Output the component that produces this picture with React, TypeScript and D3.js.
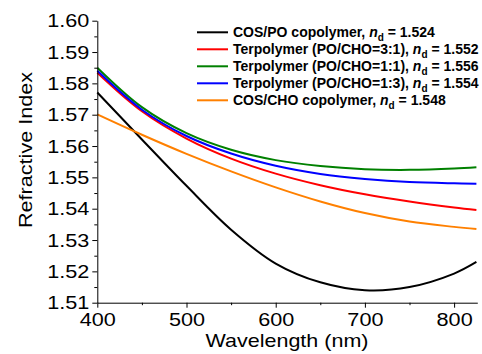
import * as React from 'react';
import * as d3 from 'd3';

const wavelengths = [400, 450, 500, 550, 600, 650, 700, 750, 800, 825];
const cosPo = [1.5771, 1.5621, 1.5473, 1.5333, 1.5225, 1.5165, 1.514, 1.515, 1.5193, 1.523];
const terp31 = [1.5834, 1.5711, 1.5624, 1.556, 1.5512, 1.5475, 1.5446, 1.5423, 1.5404, 1.5396];
const terp11 = [1.585, 1.5724, 1.5641, 1.5588, 1.5555, 1.5536, 1.5526, 1.5524, 1.5528, 1.5532];
const terp13 = [1.584, 1.5716, 1.5632, 1.5576, 1.5537, 1.5511, 1.5495, 1.5485, 1.5481, 1.548];
const cosCho = [1.5701, 1.5636, 1.5575, 1.5519, 1.5468, 1.5423, 1.5386, 1.5359, 1.5342, 1.5335];

const seriesNames = ['COS/PO copolymer', 'Terpolymer (PO/CHO=3:1)', 'Terpolymer (PO/CHO=1:1)', 'Terpolymer (PO/CHO=1:3)', 'COS/CHO copolymer'];
const ndValues = ['1.524', '1.552', '1.556', '1.554', '1.548'];
const colors = ['#000000', '#ff0000', '#008000', '#0000ff', '#ff8000'];

const xMajor = [400, 500, 600, 700, 800];
const xMinor = [450, 550, 650, 750];
const yMajor = [1.51, 1.52, 1.53, 1.54, 1.55, 1.56, 1.57, 1.58, 1.59, 1.6];
const yMinor = [1.515, 1.525, 1.535, 1.545, 1.555, 1.565, 1.575, 1.585, 1.595];

const FONT = "'Liberation Sans', Arial, sans-serif";

export default function App() {
  const ref = React.useRef<SVGSVGElement>(null);

  React.useEffect(() => {
    const svg = d3.select(ref.current);
    svg.selectAll('*').remove();

    const x = d3.scaleLinear().domain([400, 826]).range([97.3, 477.3]);
    const y = d3.scaleLinear().domain([1.51, 1.6]).range([302.7, 20.7]);

    const allSeries = [cosPo, terp31, terp11, terp13, cosCho];

    const line = d3.line<number>()
      .x((d, i) => x(wavelengths[i]))
      .y(d => y(d))
      .curve(d3.curveCatmullRom);

    svg.selectAll('.curve').data(allSeries)
      .enter().append('path')
      .attr('class', 'curve')
      .attr('d', d => line(d))
      .attr('fill', 'none')
      .attr('stroke', (d, i) => colors[i])
      .attr('stroke-width', 2);

    // axes: major ticks with labels, minor ticks without
    const gx = svg.append('g').attr('transform', `translate(0,${y(1.51)})`);
    gx.call(d3.axisBottom(x).tickValues(xMajor).tickSize(5).tickSizeOuter(0).tickPadding(5).tickFormat(d3.format('d')));
    gx.append('g').call(d3.axisBottom(x).tickValues(xMinor).tickSize(2.5).tickSizeOuter(0).tickFormat(() => ''))
      .select('.domain').remove();

    const gy = svg.append('g').attr('transform', `translate(${x(400)},0)`);
    gy.call(d3.axisLeft(y).tickValues(yMajor).tickSize(5).tickSizeOuter(0).tickPadding(2).tickFormat(d3.format('.2f')));
    gy.append('g').call(d3.axisLeft(y).tickValues(yMinor).tickSize(3).tickSizeOuter(0).tickFormat(() => ''))
      .select('.domain').remove();

    svg.selectAll('.tick text')
      .attr('font-size', 19)
      .attr('font-family', FONT)
      .attr('fill', '#000')
      .attr('transform', 'scale(1.14,1)');
    svg.selectAll('.domain, .tick line').attr('stroke', '#000').attr('stroke-width', 1);

    svg.append('text')
      .attr('x', 287)
      .attr('y', 346.5)
      .attr('text-anchor', 'middle')
      .attr('font-size', 19)
      .attr('font-family', FONT)
      .attr('textLength', 163)
      .attr('lengthAdjust', 'spacingAndGlyphs')
      .text('Wavelength (nm)');

    svg.append('text')
      .attr('transform', 'translate(32,150) rotate(-90)')
      .attr('text-anchor', 'middle')
      .attr('font-size', 19)
      .attr('font-family', FONT)
      .attr('textLength', 156)
      .attr('lengthAdjust', 'spacingAndGlyphs')
      .text('Refractive Index');

    const legend = svg.selectAll('.legend')
      .data(seriesNames)
      .enter().append('g')
      .attr('class', 'legend')
      .attr('transform', (d, i) => `translate(0,${32.3 + i * 17})`);

    legend.append('line')
      .attr('x1', 197)
      .attr('x2', 228)
      .attr('stroke', (d, i) => colors[i])
      .attr('stroke-width', 2);

    const t = legend.append('text')
      .attr('x', 233)
      .attr('y', 5)
      .attr('font-size', 14)
      .attr('font-weight', 'bold')
      .attr('font-family', FONT);
    t.append('tspan').text(d => `${d}, `);
    t.append('tspan').attr('font-style', 'italic').text('n');
    t.append('tspan').attr('font-size', 10).attr('dy', 3.5).text('d');
    t.append('tspan').attr('dy', -3.5).text((d, i) => ` = ${ndValues[i]}`);
  }, []);

  return (
    <svg ref={ref} width={482} height={354} style={{ position: 'absolute', left: 0, top: 0, background: '#fff' }}></svg>
  );
}
